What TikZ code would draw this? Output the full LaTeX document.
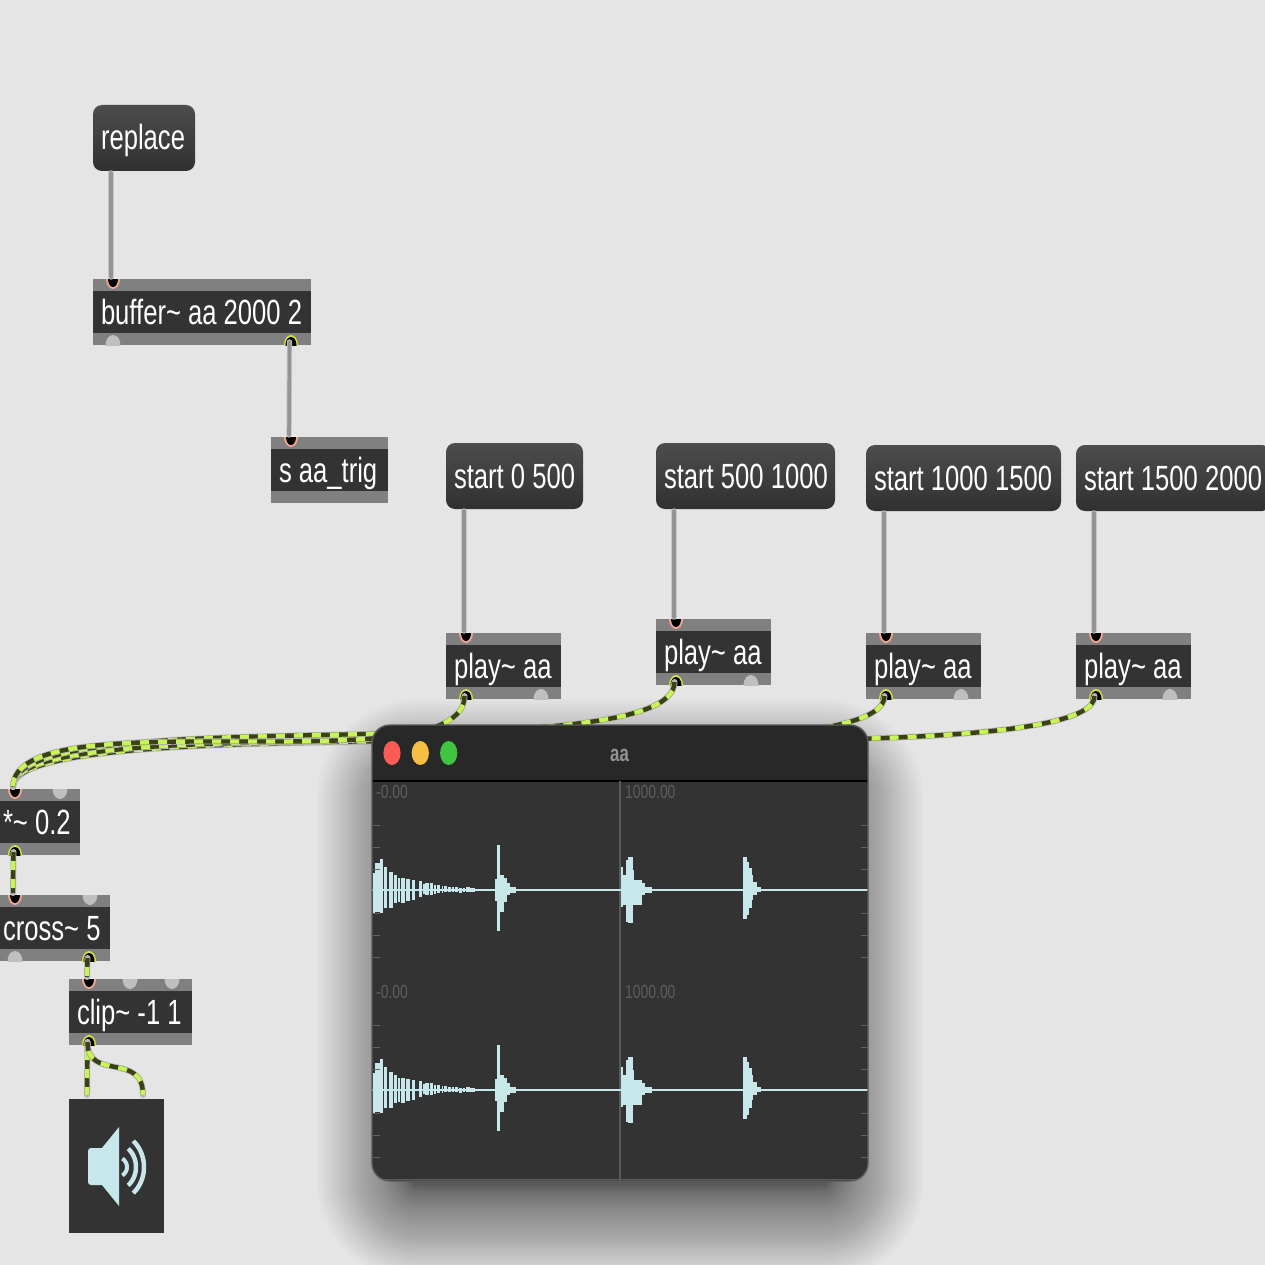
\documentclass[tikz,border=0pt]{standalone}
\usepackage{fontspec}
\setmainfont[FakeStretch=0.732]{Liberation Sans}
\definecolor{bgc}{HTML}{E5E5E5}
\definecolor{objgrey}{HTML}{808080}
\definecolor{objdark}{HTML}{333333}
\definecolor{portin}{HTML}{F4A592}
\definecolor{portout}{HTML}{D8E040}
\definecolor{portidle}{HTML}{BFBFBF}
\definecolor{lime}{HTML}{C8F45A}
\definecolor{olive}{HTML}{3A4215}
\definecolor{wavec}{HTML}{C8E7EA}
\definecolor{barc}{HTML}{282828}
\definecolor{edgec}{HTML}{5A5A5A}
\definecolor{labc}{HTML}{5E5E5E}
\definecolor{lightred}{HTML}{FD5B55}
\definecolor{lightyel}{HTML}{F4BF44}
\definecolor{lightgrn}{HTML}{3FC53F}
\tikzset{
 objbox/.style={anchor=north west,inner sep=0pt,outer sep=0pt,minimum height=66pt,fill=objgrey,
   text=white,font=\fontsize{35}{35}\selectfont,text height=28pt,text depth=4pt,
   path picture={\fill[objdark] ([yshift=-12pt]path picture bounding box.north west) rectangle ([yshift=12pt]path picture bounding box.south east);}},
 msgbox/.style={anchor=north west,inner sep=0pt,outer sep=0pt,minimum height=66pt,rounded corners=9pt,
   top color=black!70!white,bottom color=objdark!95!black,
   text=white,font=\fontsize{35}{35}\selectfont,text height=28pt,text depth=4pt},
 ctlcord/.style={draw=black!42,line width=3.6pt,line cap=round,preaction={draw=black!22,line width=5.4pt,line cap=round}},
 sigcord/.style={draw=olive,line width=4.4pt,line cap=butt,
   preaction={draw=black!28,line width=6pt,line cap=round},
   postaction={draw=lime,line width=4.4pt,dash pattern=on 9pt off 9pt,dash phase=9pt}},
 dacbox/.style={anchor=north west,inner sep=0pt,outer sep=0pt,fill=objdark},
 winlabel/.style={anchor=base west,inner sep=0pt,text=labc,font=\fontsize{19}{19}\selectfont},
 wavefill/.style={fill=wavec},
 tickmark/.style={draw=black!62,line width=1.6pt},
}
\newcommand{\inport}[3]{\begin{scope}\clip (#2-10,#3) rectangle (#2+10,#3+12);
  \fill[portin] (#2,#3) ellipse[x radius=7,y radius=10];
  \fill[black] (#2,#3) ellipse[x radius=5,y radius=8];\end{scope}
  \coordinate (#1) at (#2-2,#3-2);}
\newcommand{\outport}[3]{\begin{scope}\clip (#2-10,#3) rectangle (#2+10,#3-12);
  \fill[portout] (#2,#3) ellipse[x radius=7,y radius=10];
  \fill[black] (#2,#3) ellipse[x radius=5.5,y radius=8];\end{scope}
  \coordinate (#1) at (#2-1.5,#3-3);}
\newcommand{\idletop}[2]{\begin{scope}\clip (#1-10,#2) rectangle (#1+10,#2+12);
  \fill[portidle] (#1,#2) ellipse[x radius=7.5,y radius=10];\end{scope}}
\newcommand{\idlebot}[2]{\begin{scope}\clip (#1-10,#2) rectangle (#1+10,#2-12);
  \fill[portidle] (#1,#2) ellipse[x radius=7.5,y radius=10];\end{scope}}
\newcommand{\lbl}[2]{\makebox[#1pt][l]{\hspace{8pt}#2}}
\newcommand{\wavepart}[1]{%
  \fill[wavefill] (372,#1-1) rectangle (868,#1+1);
  \foreach \xa/\xb/\ua/\da in {
   372.5/375/17/23,375/379.5/27/22,379.5/382.7/31/23,383.5/386.7/23/18,388.5/392.7/18/18,
   394/396.7/15/13,398/399.5/12/12,400.7/404.7/12/13,406/410/11/11,411.7/415/10/10,
   418.5/421.7/9/7,423/425/6/4,425/428.5/7/5,430/433/7/5,433.5/436/5/4,436.7/440/5/3,
   441.5/443/4/3,444/447/4/2,448/451/3/2,452/454/3/2,455/458/3/2,459/462/2/3,463/465/2/2,466/470/3/2,470/475/2/2,
   495/497/11/11,497/500/45/41,500/503.5/15/22,503.5/506.7/12/12,506.7/510/7/5,510/515.7/3/3,
   621/622.7/23/17,622.7/625.7/15/15,625.7/628.3/30/32,628.3/632.7/33/33,632.7/634/20/15,634/641.7/10/15,641.7/645/7/5,645/651.7/3/3,
   743.3/746.7/33/29,746.7/749/28/25,749/751.7/22/18,751.7/753.3/15/10,753.3/756.7/8/5,756.7/760.7/3/2}
   {\fill[wavefill] (\xa,#1-\ua) rectangle (\xb,#1+\da);}
  \foreach \yy in {825,847,869,913,935,957}{
   \draw[tickmark] (373,\yy+#1-889) -- (380,\yy+#1-889);
   \draw[tickmark] (861,\yy+#1-889) -- (868,\yy+#1-889);}
}
\begin{document}
\begin{tikzpicture}[x=1pt,y=-1pt]
\useasboundingbox (0,0) rectangle (1265,1265);
\clip (0,0) rectangle (1265,1265);
\fill[bgc] (0,0) rectangle (1265,1265);
% shadow of the window
\foreach \i in {1,...,60}{
  \pgfmathsetmacro{\k}{-40+96*(\i/60)^1.5}
  \pgfmathsetmacro{\rr}{46+\k}
  \fill[black,opacity=0.0115,rounded corners=\rr pt] (372-\k,755-\k) rectangle (868+\k,1225+\k);
}
% message boxes
\node[msgbox,minimum width=102pt] (mreplace) at (93,105) {\lbl{102}{replace}};
\node[msgbox,minimum width=137pt] (ma) at (446,443) {\lbl{137}{start 0 500}};
\node[msgbox,minimum width=179pt] (mb) at (656,443) {\lbl{179}{start 500 1000}};
\node[msgbox,minimum width=195pt] (mc) at (866,445) {\lbl{195}{start 1000 1500}};
\node[msgbox,minimum width=195pt] (md) at (1076,445) {\lbl{195}{start 1500 2000}};
% objects
\node[objbox,minimum width=218pt] (buf) at (93,279) {\lbl{218}{buffer\char`~{} aa 2000 2}};
\node[objbox,minimum width=117pt] (snd) at (271,437) {\lbl{117}{s aa\_trig}};
\node[objbox,minimum width=115pt] (pa) at (446,633) {\lbl{115}{play\char`~{} aa}};
\node[objbox,minimum width=115pt] (pb) at (656,619) {\lbl{115}{play\char`~{} aa}};
\node[objbox,minimum width=115pt] (pc) at (866,633) {\lbl{115}{play\char`~{} aa}};
\node[objbox,minimum width=115pt] (pd) at (1076,633) {\lbl{115}{play\char`~{} aa}};
\node[objbox,minimum width=85pt] (gain) at (-5,789) {\lbl{85}{*\char`~{} 0.2}};
\node[objbox,minimum width=115pt] (crs) at (-5,895) {\lbl{115}{cross\char`~{} 5}};
\node[objbox,minimum width=123pt] (clp) at (69,979) {\lbl{123}{clip\char`~{} -1 1}};
\node[dacbox,minimum width=95pt,minimum height=134pt] (dac) at (69,1099) {};
% ports
\inport{bufin}{113}{279}\idlebot{113}{345}\outport{bufout}{291}{345}
\inport{sndin}{291}{437}
\inport{pain}{466}{633}\outport{paout}{466}{699}\idlebot{541}{699}
\inport{pbin}{676}{619}\outport{pbout}{676}{685}\idlebot{751}{685}
\inport{pcin}{886}{633}\outport{pcout}{886}{699}\idlebot{961}{699}
\inport{pdin}{1096}{633}\outport{pdout}{1096}{699}\idlebot{1170}{699}
\inport{gainin}{15}{789}\idletop{60}{789}\outport{gainout}{15}{855}
\inport{crsin}{15}{895}\idletop{90}{895}\idlebot{15}{961}\outport{crsout}{89}{961}
\inport{clpin}{89}{979}\idletop{130}{979}\idletop{172}{979}\outport{clpout}{89}{1045}
% connector ends on message boxes and on the speaker
\coordinate (mreplaceout) at ([xshift=18pt,yshift=-2pt]mreplace.south west);
\coordinate (maout) at ([xshift=18pt,yshift=-2pt]ma.south west);
\coordinate (mbout) at ([xshift=18pt,yshift=-2pt]mb.south west);
\coordinate (mcout) at ([xshift=18pt,yshift=-2pt]mc.south west);
\coordinate (mdout) at ([xshift=18pt,yshift=-2pt]md.south west);
\coordinate (dacl) at ([xshift=18pt,yshift=4pt]dac.north west);
\coordinate (dacr) at ([xshift=74pt,yshift=4pt]dac.north west);
% control cords
\draw[ctlcord] (mreplaceout) -- (bufin);
\draw[ctlcord] (bufout) -- (sndin);
\draw[ctlcord] (maout) -- (pain);
\draw[ctlcord] (mbout) -- (pbin);
\draw[ctlcord] (mcout) -- (pcin);
\draw[ctlcord] (mdout) -- (pdin);
% signal cords
\draw[sigcord] (pdout) .. controls +(0,92) and +(0,-92) .. (gainin);
\draw[sigcord] (pcout) .. controls +(0,92) and +(0,-92) .. (gainin);
\draw[sigcord] (pbout) .. controls +(0,92) and +(0,-92) .. (gainin);
\draw[sigcord] (paout) .. controls +(0,92) and +(0,-92) .. (gainin);
\draw[sigcord] (gainout) -- (crsin);
\draw[sigcord] (crsout) -- (clpin);
\draw[sigcord] (clpout) -- (dacl);
\draw[sigcord] (clpout) .. controls +(0,40) and +(0,-44) .. (dacr);
% speaker icon
\fill[wavefill] (119,1127) -- (102,1148) [rounded corners=3pt] -- (88,1148) -- (88,1185) [sharp corners] -- (102,1185) -- (119,1206) -- cycle;
\draw[wavec,line width=4pt] plot[domain=-50:50,samples=24] ({114+13*cos(\x)},{1167+11*sin(\x)});
\draw[wavec,line width=4.5pt] plot[domain=-50:50,samples=24] ({114+22*cos(\x)},{1167+24*sin(\x)});
\draw[wavec,line width=4.5pt] plot[domain=-50:50,samples=24] ({114+30*cos(\x)},{1167+34*sin(\x)});
% waveform window
\node[anchor=north west,inner sep=0pt,outer sep=0pt,minimum width=496pt,minimum height=456pt,rounded corners=18pt,fill=objdark] (win) at (372,725) {};
\begin{scope}
 \clip[rounded corners=18pt] (372,725) rectangle (868,1181);
 \fill[barc] (372,725) rectangle (868,781);
 \draw[black,line width=1.2pt] (372,781) -- (868,781);
 \draw[edgec,line width=1.4pt] (620,781) -- (620,1181);
 \draw[edgec,line width=1.4pt] (372,1179.5) -- (868,1179.5);
 \wavepart{889.5}
 \wavepart{1089.5}
\end{scope}
\draw[edgec,line width=1.4pt,rounded corners=18pt] (372,725) rectangle (868,1181);
\fill[lightred] (392,753) ellipse[x radius=8.6,y radius=12];
\fill[lightyel] (420.3,753) ellipse[x radius=8.6,y radius=12];
\fill[lightgrn] (448.7,753) ellipse[x radius=8.6,y radius=12];
\node[anchor=base,inner sep=0pt,text=black!42,font=\bfseries\fontsize{23}{23}\selectfont] (wintitle) at (619.5,761) {aa};
\node[winlabel] (la) at (376,798.5) {-0.00};
\node[winlabel] (lb) at (625,798.5) {1000.00};
\node[winlabel] (lc) at (376,998.5) {-0.00};
\node[winlabel] (ld) at (625,998.5) {1000.00};
\end{tikzpicture}
\end{document}
